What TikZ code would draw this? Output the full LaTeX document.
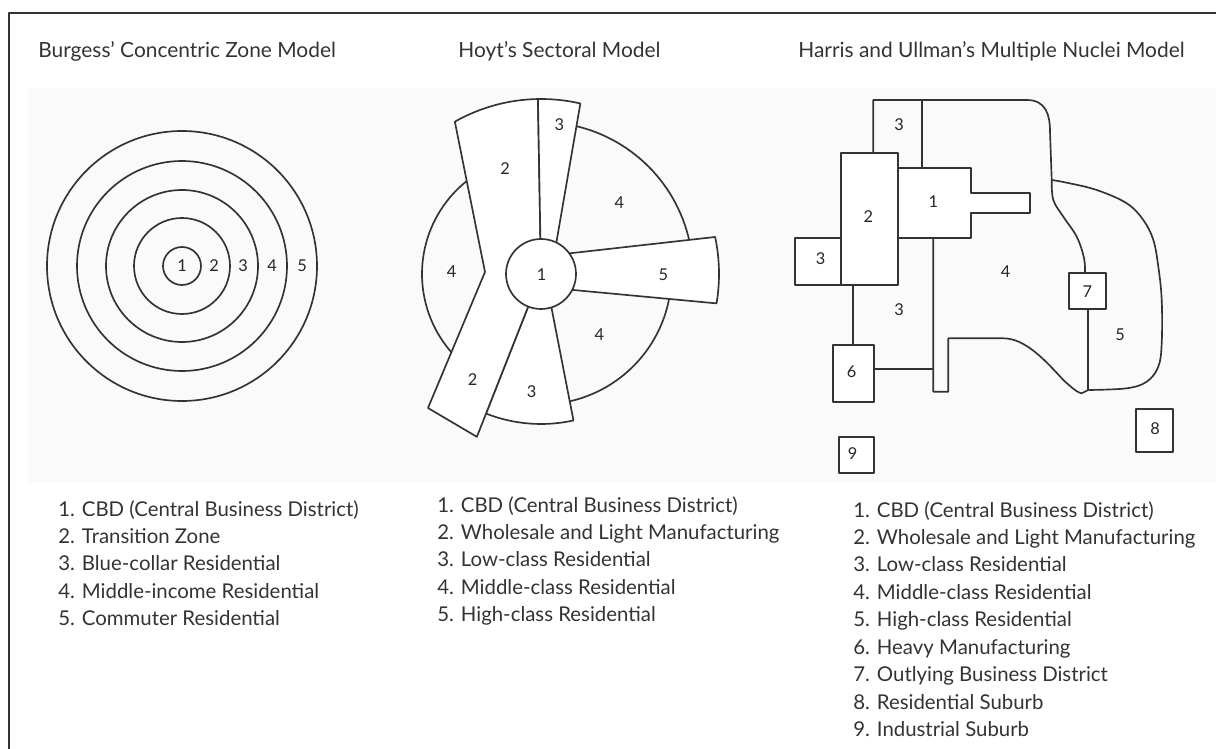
\documentclass[tikz,border=0pt]{standalone}
\usepackage{fontspec}
\setmainfont{Lato}
\usetikzlibrary{calc}
\definecolor{ink}{HTML}{333333}

\begin{document}
\begin{tikzpicture}[
    x=0.02cm, y=-0.02cm,
    line join=round,
    zone/.style={draw=ink, line width=0.95pt},
    sector/.style={draw=ink, line width=0.95pt, fill=white},
    lot/.style={draw=ink, line width=0.95pt, fill=white},
    num/.style={text=black!85, font=\fontsize{9.3}{10}\selectfont, inner sep=0pt},
    heading/.style={text=ink, font=\fontsize{11.9}{14}\selectfont, anchor=base west, inner sep=0pt},
    key/.style={text=ink, font=\fontsize{11.6}{15.6}\selectfont, anchor=north west, align=left, inner sep=0pt}
]
    \useasboundingbox (0,0) rectangle (1216,749);

    % frame and backdrop of the drawings
    \fill[black!2] (28,88) rectangle (1216,483);
    \draw[ink, line width=1.2pt] (1216,13) -- (9,13) -- (9,749);

    % headings
    \node[heading] (burgessT) at (38,58)  {Burgess' Concentric Zone Model};
    \node[heading] (hoytT)    at (458,58) {Hoyt's Sectoral Model};
    \node[heading] (harrisT)  at (798,58) {Harris and Ullman's Multiple Nuclei Model};

    % Burgess: rings
    \coordinate (bc) at (182,266);
    \foreach \r in {19,48,76,105,135}
        \draw[zone] (bc) circle[radius=\r];
    \foreach \n/\x in {1/182,2/214,3/243,4/272,5/302}
        \node[num] (ring\n) at (\x,266) {\n};

    % Hoyt: middle-class arcs first, sectors laid over them
    \coordinate (hc) at (541,274);
    \draw[zone] ($(hc)+(135:119)$) arc[start angle=135, end angle=235, radius=119];
    \draw[zone] ($(hc)+(-80:152)$) arc[start angle=-80, end angle=-10, radius=152];
    \draw[zone] ($(hc)+(5:130.5)$) arc[start angle=5, end angle=82, radius=130.5];

    % low-class sector, south
    \draw[sector] (hc) -- ($(hc)+(111.5:150)$) arc[start angle=111.5, end angle=77.5, radius=150]
        -- ($(hc)+(72.7:35)$) -- cycle;
    % wholesale band with its notch
    \draw[sector] ($(hc)+(-119.5:175)$) -- (485,272) -- (428,408) -- ($(hc)+(111.5:175)$) -- (hc)
        -- ($(hc)+(-91:175)$) arc[start angle=-91, end angle=-119.5, radius=175] -- cycle;
    % low-class sector, north
    \draw[sector] (hc) -- ($(hc)+(-91:175)$) arc[start angle=-91, end angle=-77, radius=175]
        -- ($(hc)+(-64:35)$) -- cycle;
    % high-class wedge
    \draw[sector] (570,253.3) -- ($(hc)+(-12:178)$) arc[start angle=-12, end angle=9.5, radius=178]
        -- (573.3,290) -- (hc) -- cycle;
    % CBD
    \draw[sector] (hc) circle[radius=35];

    \node[num] (hoyt1)  at (541.7,274.3) {1};
    \node[num] (hoyt2a) at (505,168.3)   {2};
    \node[num] (hoyt2b) at (472.7,380)   {2};
    \node[num] (hoyt3a) at (559.3,125)   {3};
    \node[num] (hoyt3b) at (531.7,391.7) {3};
    \node[num] (hoyt4a) at (451.7,271.7) {4};
    \node[num] (hoyt4b) at (619.3,202.7) {4};
    \node[num] (hoyt4c) at (599.3,335)   {4};
    \node[num] (hoyt5)  at (663.3,275)   {5};

    % Harris and Ullman: outline of zones 3, 4 and 5
    \draw[zone] (873.3,152.7) -- (873.3,100) -- (1026.7,100)
        .. controls (1046,100) and (1050,115) .. (1050,131.7) -- (1051.7,180);
    \draw[zone] plot[smooth, tension=0.6] coordinates {(1051.7,180) (1066.7,182.7) (1096.7,190)
        (1126.7,203.3) (1143.3,220) (1153.3,240) (1158.3,266.7) (1161.7,300) (1161.7,343.3)
        (1158.3,366.7) (1146.7,381.7) (1126.7,388.3) (1088.3,390)};
    \draw[zone] (1088.3,390) -- (1081.7,393.3) .. controls (1078,393) and (1072,388) .. (1063.3,380)
        .. controls (1045,360) and (1025,338.3) .. (1003.3,338.3) -- (948.3,338.3)
        -- (948.3,391.7) -- (933.3,391.7) -- (933.3,238.3);
    \draw[zone] plot[smooth, tension=0.6] coordinates {(1051.7,180) (1053.3,200) (1063.3,216.7)
        (1076.7,236.7) (1084,258) (1085,272.7)};
    \draw[zone] (921.7,100) -- (921.7,168.3);
    \draw[zone] (853.3,285) -- (853.3,345);
    \draw[zone] (874,369.3) -- (933.3,369.3);
    \draw[zone] (1088.3,309.3) -- (1088.3,390);

    % nuclei
    \draw[lot] (841,152.7) rectangle (898.3,285);
    \draw[lot] (898.3,168.3) -- (971,168.3) -- (971,193.3) -- (1030,193.3) -- (1030,213.3)
        -- (971,213.3) -- (971,238.3) -- (898.3,238.3) -- cycle;
    \draw[lot] (795,237.7) rectangle (841,285);
    \draw[lot] (832.7,345) rectangle (874,401.7);
    \draw[lot] (1069.3,272.7) rectangle (1106,309.3);
    \draw[lot] (1136,409.3) rectangle (1173.3,451.7);
    \draw[lot] (839.3,436.7) rectangle (874,473.3);

    \node[num] (nuc1)  at (933.3,201.7) {1};
    \node[num] (nuc2)  at (868.3,216.7) {2};
    \node[num] (nuc3a) at (899,125)     {3};
    \node[num] (nuc3b) at (820.7,258.3) {3};
    \node[num] (nuc3c) at (899,310)     {3};
    \node[num] (nuc4)  at (1005.7,271.7) {4};
    \node[num] (nuc5)  at (1120,335)    {5};
    \node[num] (nuc6)  at (851.7,371.7) {6};
    \node[num] (nuc7)  at (1087.3,291.7) {7};
    \node[num] (nuc8)  at (1155,428.3)  {8};
    \node[num] (nuc9)  at (852.7,453.3) {9};

    % keys
    \node[key] (burgessKey) at (58,500) {1. CBD (Central Business District)\\2. Transition Zone\\
        3. Blue-collar Residential\\4. Middle-income Residential\\5. Commuter Residential};
    \node[key] (hoytKey) at (437,496) {1. CBD (Central Business District)\\
        2. Wholesale and Light Manufacturing\\3. Low-class Residential\\
        4. Middle-class Residential\\5. High-class Residential};
    \node[key] (harrisKey) at (853,501) {1. CBD (Central Business District)\\
        2. Wholesale and Light Manufacturing\\3. Low-class Residential\\
        4. Middle-class Residential\\5. High-class Residential\\6. Heavy Manufacturing\\
        7. Outlying Business District\\8. Residential Suburb\\9. Industrial Suburb};
\end{tikzpicture}
\end{document}
